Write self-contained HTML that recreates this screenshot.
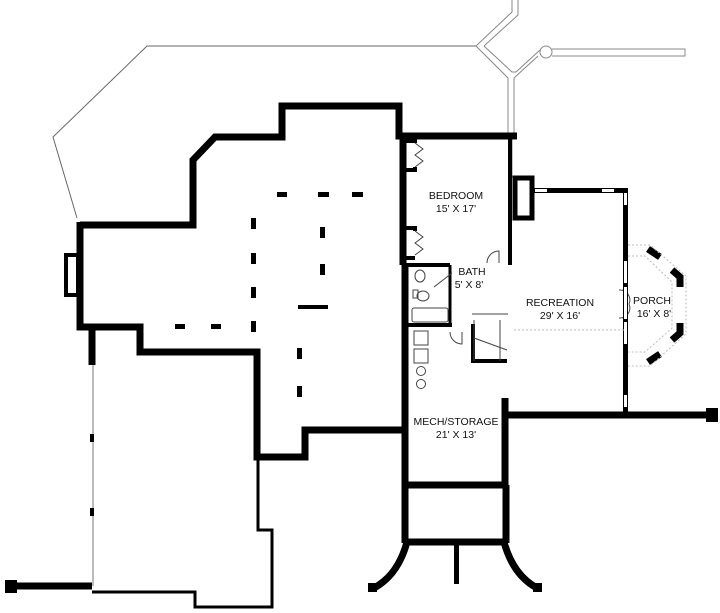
<!DOCTYPE html>
<html><head><meta charset="utf-8"><style>
html,body{margin:0;padding:0;background:#fff;}
svg{display:block}
text{font-family:"Liberation Sans",sans-serif;font-size:10.5px;fill:#111;text-anchor:middle}
</style></head><body>
<svg width="720" height="613" viewBox="0 0 720 613" xmlns="http://www.w3.org/2000/svg">
<!-- thin outline terrace -->
<polyline points="77,218 53,137 147,46 476,46" fill="none" stroke="#666" stroke-width="1"/>
<!-- walkway -->
<g fill="none" stroke="#888" stroke-width="1">
<polyline points="476,46 512,12 512,0"/>
<polyline points="484,46 518,15 518,0"/>
<polyline points="476,46 508,78 508,135"/>
<polyline points="484,46 512,72 516,72 540,50"/>
<polyline points="514,78 514,135"/>
<polyline points="514,78 538,56"/>
<circle cx="546" cy="52" r="6"/>
<polyline points="552,49 685,49 685,56 552,56"/>
<polyline points="512,136 512,178 M517,136 517,178"/>
</g>
<!-- main thick walls -->
<g fill="none" stroke="#000" stroke-width="7" stroke-linejoin="miter">
<polyline points="80,222 80,327 140,327 140,352 257,352 257,457 305,457 305,430 405,430"/>
<polyline points="80,225 193,225 193,160 215,137 282,137 282,106 399,106 399,136 517,136"/>
<polyline points="403,136 403,265"/>
<polyline points="92,327 92,365"/>
<polyline points="405,265 405,488"/>
<polyline points="505,488 505,398"/>
<polyline points="405,485 508,485"/>
<polyline points="405,485 405,543"/>
<polyline points="506,485 506,543"/>
<polyline points="405,542 506,542"/>
<polyline points="505,415 712,415"/>
<polyline points="14,586 92,586"/>
</g>
<!-- curves -->
<path d="M407,542 Q398,575 374,588" fill="none" stroke="#000" stroke-width="7"/>
<path d="M504,542 Q513,575 537,588" fill="none" stroke="#000" stroke-width="7"/>
<rect x="368" y="583" width="9" height="9" fill="#000"/>
<rect x="533" y="583" width="9" height="9" fill="#000"/>
<rect x="454" y="544" width="5" height="40" fill="#000"/>
<rect x="5" y="580" width="12" height="13" fill="#000"/>
<rect x="706" y="408" width="12" height="14" fill="#000"/>
<!-- lower left thin -->
<polyline points="93,365 93,586" fill="none" stroke="#777" stroke-width="1"/>
<polyline points="92,592 195,592 195,607 272,607 272,530 258,530 258,458" fill="none" stroke="#000" stroke-width="3"/>
<rect x="90" y="434" width="4" height="8" fill="#000"/>
<rect x="90" y="508" width="4" height="8" fill="#000"/>
<!-- left chimney -->
<rect x="66" y="255" width="12" height="40" fill="#fff" stroke="#000" stroke-width="4"/>
<!-- columns -->
<g fill="#000">
<rect x="277" y="192" width="10" height="5"/><rect x="318" y="192" width="11" height="5"/><rect x="352" y="192" width="11" height="5"/>
<rect x="251" y="218" width="5" height="11"/><rect x="320" y="227" width="5" height="11"/>
<rect x="251" y="253" width="5" height="11"/><rect x="320" y="264" width="5" height="11"/>
<rect x="251" y="287" width="5" height="11"/><rect x="298" y="305" width="30" height="4"/>
<rect x="175" y="324" width="10" height="5"/><rect x="211" y="324" width="10" height="5"/><rect x="251" y="321" width="5" height="11"/>
<rect x="297" y="348" width="5" height="11"/><rect x="297" y="386" width="5" height="11"/>
</g>
<!-- bedroom / bath details -->
<g fill="none" stroke="#000" stroke-width="4">
<polyline points="403,141 415,141 415,143"/>
<polyline points="403,170 415,170 415,167"/>
<polyline points="403,228 415,228 415,231"/>
<polyline points="403,258 415,258"/>
<polyline points="403,265 450,265"/>
<polyline points="510,136 510,263 508,263"/>
<polyline points="407,325 452,325"/>
<polyline points="473,324 473,361 507,361"/>
</g>
<line x1="450" y1="265" x2="450" y2="325" stroke="#000" stroke-width="3"/>
<g fill="none" stroke="#444" stroke-width="1">
<path d="M415,143 l8,6 l-8,6 l8,6 l-8,6 M415,231 l8,6 l-8,6 l8,6 l-8,6"/>
<path d="M487,263 a12,12 0 0 1 12,-12 v12"/>
<ellipse cx="420" cy="276" rx="5" ry="6"/><rect x="413" y="290" width="5" height="8"/><ellipse cx="423" cy="296" rx="6" ry="5"/>
<rect x="412" y="308" width="36" height="14" rx="2"/>
<line x1="434" y1="287" x2="452" y2="273"/>
<rect x="414" y="331" width="14" height="14"/><rect x="414" y="349" width="14" height="14"/>
<circle cx="421" cy="371" r="4.5"/><circle cx="421" cy="384" r="4.5"/>
<path d="M472,314 h36 M474,320 v41 M500,320 v41 M474,338 l33,12"/>
<path d="M450,332 a12,12 0 0 0 12,12 v-12"/>
<path d="M619,290 a10,10 0 0 1 10,14 M619,318 a10,10 0 0 0 10,-14"/>
</g>
<!-- recreation chimney & walls -->
<rect x="515" y="178" width="17" height="40" fill="#fff" stroke="#000" stroke-width="5"/>
<rect x="534" y="188" width="92" height="5" fill="#000"/>
<rect x="535" y="189" width="12" height="3" fill="#fff"/><rect x="602" y="189" width="12" height="3" fill="#fff"/>
<rect x="623" y="188" width="5" height="226" fill="#000"/>
<rect x="624" y="193" width="3" height="12" fill="#fff"/><rect x="624" y="261" width="3" height="22" fill="#fff"/>
<rect x="624" y="287" width="3" height="32" fill="#fff"/><rect x="624" y="322" width="3" height="22" fill="#fff"/>
<rect x="624" y="395" width="3" height="12" fill="#fff"/>
<!-- porch -->
<g fill="none" stroke="#000" stroke-width="7">
<polyline points="648,249 660,257"/>
<polyline points="672,270 680,277 680,287"/>
<polyline points="680,323 680,333 672,340"/>
<polyline points="660,354 648,362"/>
</g>
<g fill="none" stroke="#bbb" stroke-width="1" stroke-dasharray="2,2">
<polyline points="628,245 650,245 686,276 686,334 650,366 628,366"/>
<polyline points="628,256 645,256 672,282 672,328 645,352 628,352"/>
<line x1="514" y1="330" x2="624" y2="330"/>
</g>
<!-- labels -->
<text x="456" y="199">BEDROOM</text><text x="456" y="212">15' X 17'</text>
<text x="472" y="275">BATH</text><text x="469" y="288">5' X 8'</text>
<text x="560" y="306">RECREATION</text><text x="560" y="319">29' X 16'</text>
<text x="652" y="304">PORCH</text><text x="654" y="317">16' X 8'</text>
<text x="456" y="425">MECH/STORAGE</text><text x="456" y="438">21' X 13'</text>
</svg>
</body></html>
